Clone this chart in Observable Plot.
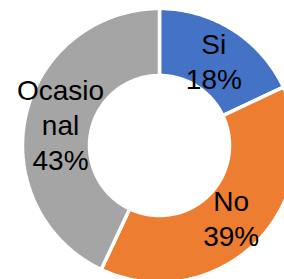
<!DOCTYPE html>
<html>
<head>
<meta charset="utf-8">
<script src="https://cdn.jsdelivr.net/npm/d3@7"></script>
<script src="https://cdn.jsdelivr.net/npm/@observablehq/plot@0.6"></script>
<style>
  html, body { margin: 0; padding: 0; background: #fff; }
  #chart svg { display: block; }
</style>
</head>
<body>
<div id="chart"></div>
<script>
// Data
const categories = ["Si", "No", "Ocasional"];
const values = [18, 39, 43];
const labelNames = ["Si", "No", "Ocasio\nnal"];
const colors = ["#4472C4", "#ED7D31", "#A5A5A5"];

const innerRatio = 70 / 137;
const labelRatio = 0.74;

const rows = categories.map((c, i) => ({cat: c, value: values[i], name: labelNames[i]}));
const arcs = d3.pie().sort(null).value(d => d.value)(rows);

// polygon points for each ring slice (angles clockwise from 12 o'clock)
const pts = [];
for (const a of arcs) {
  const n = 90;
  const outer = d3.range(n + 1).map(k => a.startAngle + (a.endAngle - a.startAngle) * k / n);
  for (const t of outer) pts.push({cat: a.data.cat, x: Math.sin(t), y: Math.cos(t)});
  for (const t of outer.slice().reverse()) pts.push({cat: a.data.cat, x: innerRatio * Math.sin(t), y: innerRatio * Math.cos(t)});
}

const labels = arcs.map(a => {
  const m = (a.startAngle + a.endAngle) / 2;
  return {x: labelRatio * Math.sin(m), y: labelRatio * Math.cos(m), text: `${a.data.name}\n${a.data.value}%`};
});

const cx = 159, cy = 145, R = 137;
const chart = Plot.plot({
  width: 284,
  height: 279,
  margin: 0,
  style: {background: "#fff"},
  x: {axis: null, domain: [-1, 1], range: [cx - R, cx + R]},
  y: {axis: null, domain: [-1, 1], range: [cy + R, cy - R]},
  color: {domain: categories, range: colors},
  marks: [
    Plot.line(pts, {x: "x", y: "y", z: "cat", fill: "cat", stroke: "white", strokeWidth: 3.5, curve: "linear-closed"}),
    Plot.text(labels, {x: "x", y: "y", text: "text", fontSize: 28, lineHeight: 1.25, fill: "black",
      fontFamily: "'Liberation Sans', Arial, sans-serif"})
  ]
});
document.getElementById("chart").appendChild(chart);
</script>
</body>
</html>
